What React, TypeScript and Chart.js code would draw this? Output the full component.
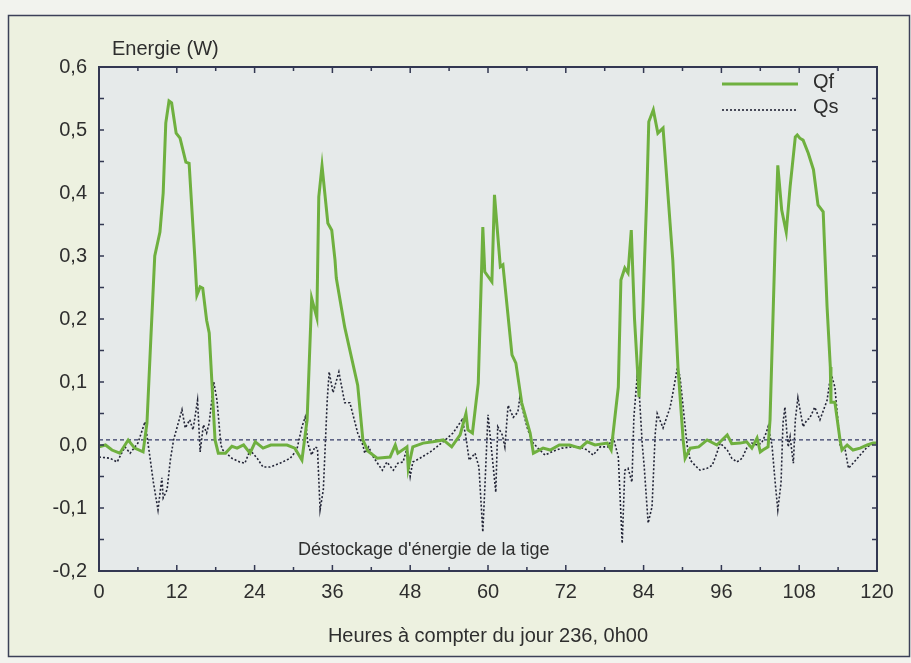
import React, { useEffect, useRef } from "react";
import { Chart, registerables } from "chart.js";

Chart.register(...registerables);

// ---- Data ----
const qfHours = [
  0, 1, 2, 3.2, 4.5, 5.5, 6.8, 7.4, 8.0, 8.6, 9.4, 9.9, 10.3, 10.8, 11.2, 11.9, 12.5, 13.4, 13.9, 14.8,
  15.1, 15.6, 16.0, 16.6, 17.0, 17.9, 18.4, 19.5, 20.5, 21.3, 22.3, 23.3, 24.1, 25.3, 26.5, 27.8, 29.0, 30.2, 31.3, 32.1,
  32.8, 33.6, 33.9, 34.4, 35.3, 35.9, 36.4, 36.6, 37.9, 39.9, 40.7, 41.5, 42.9, 44.9, 45.7, 46.1, 47.5, 47.7, 48.4, 50.0,
  51.5, 53.1, 54.4, 55.7, 56.6, 56.9, 57.6, 58.5, 59.2, 59.5, 60.6, 61.0, 61.9, 62.3, 63.7, 64.3, 65.2, 66.5, 67.0, 68.5,
  69.6, 71.0, 72.6, 74.2, 75.3, 76.5, 78.4, 79.0, 79.3, 80.1, 80.5, 81.1, 81.6, 82.1, 82.6, 83.3, 83.9, 84.5, 84.8, 85.5,
  86.2, 87.0, 88.5, 89.3, 90.1, 90.4, 91.2, 92.5, 93.8, 95.3, 96.9, 97.6, 98.9, 99.9, 100.7, 101.5, 102.0, 102.4, 103.2, 103.5,
  104.3, 104.7, 105.3, 106.0, 106.6, 107.4, 107.7, 108.1, 108.6, 109.4, 110.2, 110.9, 111.7, 112.0, 112.3, 112.8, 112.9, 113.5, 114.3, 114.6,
  115.4, 116.3, 117.4, 118.5, 119.4, 120,
];
const qfValues = [
  -0.003, 0.0, -0.008, -0.013, 0.008, -0.005, -0.011, 0.035, 0.17, 0.30, 0.338, 0.40, 0.511, 0.546, 0.543, 0.495, 0.487, 0.449, 0.447, 0.294,
  0.238, 0.251, 0.249, 0.198, 0.178, 0.008, -0.013, -0.013, -0.002, -0.005, 0.0, -0.013, 0.005, -0.005, 0.0, 0.0, 0.0, -0.005, -0.024, 0.04,
  0.233, 0.202, 0.394, 0.443, 0.352, 0.341, 0.294, 0.265, 0.187, 0.095, 0.008, -0.01, -0.021, -0.019, 0.0, -0.013, -0.003, -0.037, -0.003, 0.003,
  0.005, 0.008, -0.003, 0.016, 0.05, 0.024, 0.019, 0.098, 0.346, 0.275, 0.259, 0.397, 0.283, 0.286, 0.143, 0.13, 0.067, 0.019, -0.013, -0.005,
  -0.008, 0.0, 0.0, -0.005, 0.005, 0.0, 0.003, -0.008, 0.019, 0.092, 0.262, 0.281, 0.273, 0.341, 0.2, 0.076, 0.219, 0.40, 0.513, 0.532,
  0.495, 0.503, 0.294, 0.124, 0.008, -0.021, -0.005, -0.003, 0.008, 0.0, 0.016, 0.002, 0.003, 0.005, -0.005, 0.011, -0.011, -0.008, -0.003, 0.04,
  0.325, 0.444, 0.373, 0.338, 0.41, 0.489, 0.492, 0.487, 0.484, 0.463, 0.437, 0.381, 0.37, 0.294, 0.219, 0.124, 0.068, 0.068, 0.008, -0.008,
  0.0, -0.008, -0.005, 0.0, 0.003, 0.003,
];

const qsHours = [
  0, 1.7, 2.8, 4.0, 4.8, 6.0, 7.1, 7.6, 8.4, 9.1, 9.7, 9.9, 10.5, 11.0, 11.5, 12.8, 13.3, 14.0, 14.5, 15.2,
  15.6, 16.1, 16.6, 17.0, 17.7, 18.2, 18.8, 19.1, 20.5, 21.7, 22.5, 23.3, 24.4, 25.3, 26.4, 27.9, 29.5, 30.5, 31.3, 31.8,
  32.2, 32.8, 33.3, 33.7, 34.1, 34.6, 35.2, 35.5, 36.1, 37.0, 37.9, 38.7, 39.9, 40.7, 41.0, 41.6, 42.3, 43.7, 44.4, 45.4,
  46.1, 46.9, 47.5, 48.0, 48.4, 49.5, 51.1, 52.1, 53.4, 54.6, 56.0, 56.5, 57.1, 58.0, 58.6, 59.2, 59.5, 60.0, 60.6, 61.2,
  61.5, 62.2, 62.6, 63.1, 63.9, 64.6, 64.9, 66.0, 66.8, 67.7, 68.8, 70.0, 71.4, 72.8, 74.2, 75.3, 76.2, 77.3, 78.5, 79.3,
  80.1, 80.7, 81.1, 81.6, 82.2, 82.5, 83.0, 83.3, 83.8, 84.1, 84.7, 85.3, 85.8, 86.1, 87.0, 88.1, 88.4, 89.2, 89.6, 90.7,
  91.2, 91.9, 92.7, 93.8, 94.6, 95.3, 95.8, 96.9, 97.6, 98.4, 99.2, 99.9, 100.7, 101.5, 102.2, 102.9, 103.2, 103.8, 104.3, 104.7,
  105.2, 105.5, 105.8, 106.1, 106.3, 106.6, 106.9, 107.1, 107.4, 107.8, 108.6, 109.2, 109.6, 110.4, 111.2, 112.3, 112.9, 113.5, 114.3, 115.1,
  115.6, 116.3, 117.4, 118.5, 119.4,
];
const qsValues = [
  -0.019, -0.021, -0.027, -0.003, -0.013, 0.003, 0.037, 0.0, -0.06, -0.103, -0.052, -0.084, -0.071, -0.024, 0.008, 0.056, 0.027, 0.04, 0.024, 0.071,
  -0.011, 0.032, 0.019, 0.035, 0.1, 0.071, 0.0, -0.008, -0.021, -0.027, -0.029, -0.008, -0.021, -0.035, -0.035, -0.029, -0.021, -0.008, 0.029, 0.044,
  0.003, -0.016, -0.003, -0.005, -0.103, -0.071, 0.071, 0.116, 0.083, 0.116, 0.067, 0.067, 0.019, 0.0, -0.013, -0.003, -0.019, -0.04, -0.027, -0.04,
  -0.029, -0.027, -0.005, -0.05, -0.027, -0.021, -0.011, -0.003, 0.008, 0.019, 0.04, 0.019, -0.024, -0.013, -0.035, -0.138, -0.071, 0.048, -0.013, -0.075,
  0.029, 0.016, -0.003, 0.063, 0.044, 0.052, 0.075, 0.029, 0.005, -0.005, -0.016, -0.01, -0.005, -0.003, -0.003, -0.008, -0.016, -0.003, -0.003, 0.013,
  -0.019, -0.156, -0.04, -0.037, -0.059, 0.044, 0.108, 0.087, 0.0, -0.035, -0.124, -0.098, 0.019, 0.05, 0.027, 0.06, 0.076, 0.122, 0.11, 0.0,
  -0.024, -0.032, -0.04, -0.037, -0.032, -0.013, 0.003, -0.008, -0.021, -0.027, -0.021, -0.005, 0.003, 0.0, 0.003, 0.019, 0.029, 0.0, -0.06, -0.103,
  -0.06, 0.035, 0.06, 0.019, -0.003, 0.013, -0.013, -0.029, 0.04, 0.075, 0.029, 0.04, 0.042, 0.06, 0.04, 0.071, 0.114, 0.092, 0.0, -0.008,
  -0.037, -0.029, -0.016, -0.003, 0.003,
];

const xTickValues = [0, 12, 24, 36, 48, 60, 72, 84, 96, 108, 120];
const yTickValues = [-0.2, -0.1, 0, 0.1, 0.2, 0.3, 0.4, 0.5, 0.6];
const zeroLineLevel = 0.008;

const seriesNames = ["Qf", "Qs"];
const yAxisLabel = "Energie (W)";
const xAxisLabel = "Heures à compter du jour 236, 0h00";
const noteText = "Déstockage d'énergie de la tige";

const FONT = "'Liberation Sans', Arial, Helvetica, sans-serif";
const GREEN = "#6fb03f";
const DARK = "#222436";
const AXIS = "#333852";
const TEXT = "#2e2e2e";

const decorPlugin = {
  id: "decor",
  beforeDraw(chart: any) {
    const { ctx, chartArea: a, width, height } = chart;
    ctx.save();
    ctx.fillStyle = "#f2f3ee";
    ctx.fillRect(0, 0, width, height);
    ctx.fillStyle = "#edf1e0";
    ctx.fillRect(8, 15, 902, 642);
    ctx.strokeStyle = "#3c4058";
    ctx.lineWidth = 1.5;
    ctx.strokeRect(8.5, 15.5, 901, 641);
    ctx.fillStyle = "#e6eaea";
    ctx.fillRect(a.left, a.top, a.right - a.left, a.bottom - a.top);
    ctx.restore();
  },
  beforeDatasetsDraw(chart: any) {
    const { ctx, chartArea: a, scales } = chart;
    const y = scales.y.getPixelForValue(zeroLineLevel);
    ctx.save();
    ctx.strokeStyle = "#343a66";
    ctx.lineWidth = 1.2;
    ctx.setLineDash([4, 3]);
    ctx.beginPath();
    ctx.moveTo(a.left, y);
    ctx.lineTo(a.right, y);
    ctx.stroke();
    ctx.restore();
  },
  afterDraw(chart: any) {
    const { ctx, chartArea: a, scales } = chart;
    ctx.save();
    ctx.strokeStyle = AXIS;
    ctx.lineWidth = 2;
    ctx.strokeRect(a.left, a.top, a.right - a.left, a.bottom - a.top);
    ctx.lineWidth = 1.5;
    ctx.beginPath();
    for (let h = 6; h < 120; h += 6) {
      const x = scales.x.getPixelForValue(h);
      const len = h % 12 === 0 ? 6 : 4;
      ctx.moveTo(x, a.bottom);
      ctx.lineTo(x, a.bottom - len);
      ctx.moveTo(x, a.top);
      ctx.lineTo(x, a.top + len);
    }
    for (let i = 1; i < 16; i++) {
      const v = -0.2 + i * 0.05;
      const y = scales.y.getPixelForValue(v);
      ctx.moveTo(a.left, y);
      ctx.lineTo(a.left + 5, y);
      ctx.moveTo(a.right, y);
      ctx.lineTo(a.right - 5, y);
    }
    ctx.stroke();

    ctx.fillStyle = TEXT;
    ctx.textAlign = "left";
    ctx.textBaseline = "alphabetic";
    ctx.font = `20px ${FONT}`;
    ctx.fillText(yAxisLabel, 112, 55);
    ctx.font = `18px ${FONT}`;
    ctx.fillText(noteText, 298, 555);

    ctx.font = `20px ${FONT}`;
    ctx.fillText(seriesNames[0], 813, 88);
    ctx.fillText(seriesNames[1], 813, 113);
    ctx.strokeStyle = GREEN;
    ctx.lineWidth = 3;
    ctx.beginPath();
    ctx.moveTo(722, 84);
    ctx.lineTo(798, 84);
    ctx.stroke();
    ctx.strokeStyle = DARK;
    ctx.lineWidth = 1.6;
    ctx.setLineDash([2, 2]);
    ctx.beginPath();
    ctx.moveTo(722, 110);
    ctx.lineTo(798, 110);
    ctx.stroke();
    ctx.restore();
  },
};

export default function App() {
  const canvasRef = useRef<HTMLCanvasElement | null>(null);

  useEffect(() => {
    const canvas = canvasRef.current;
    if (!canvas) return;
    const qf = qfHours.map((h, i) => ({ x: h, y: qfValues[i] }));
    const qs = qsHours.map((h, i) => ({ x: h, y: qsValues[i] }));
    const chart = new Chart(canvas, {
      type: "line",
      data: {
        datasets: [
          {
            label: seriesNames[0],
            data: qf,
            borderColor: GREEN,
            borderWidth: 3,
            pointRadius: 0,
            tension: 0,
            fill: false,
          },
          {
            label: seriesNames[1],
            data: qs,
            borderColor: DARK,
            borderWidth: 1.6,
            borderDash: [2, 2],
            pointRadius: 0,
            tension: 0,
            fill: false,
          },
        ],
      },
      plugins: [decorPlugin],
      options: {
        responsive: false,
        animation: false,
        devicePixelRatio: 1,
        layout: { padding: { top: 67, right: 34, left: 0, bottom: 0 } },
        plugins: {
          legend: { display: false },
          tooltip: { enabled: false },
        },
        scales: {
          x: {
            type: "linear",
            min: 0,
            max: 120,
            afterFit: (s: any) => {
              s.height = 92;
            },
            afterBuildTicks: (s: any) => {
              s.ticks = xTickValues.map((v) => ({ value: v }));
            },
            grid: { display: false, drawTicks: false },
            border: { display: false },
            ticks: {
              autoSkip: false,
              maxRotation: 0,
              padding: 9,
              color: TEXT,
              font: { family: FONT, size: 20 },
            },
            title: {
              display: true,
              text: xAxisLabel,
              color: TEXT,
              font: { family: FONT, size: 20 },
              padding: { top: 0, bottom: 15 },
            },
          },
          y: {
            type: "linear",
            min: -0.2,
            max: 0.6,
            afterFit: (s: any) => {
              s.width = 99;
            },
            afterBuildTicks: (s: any) => {
              s.ticks = yTickValues.map((v) => ({ value: v }));
            },
            grid: { display: false, drawTicks: false },
            border: { display: false },
            ticks: {
              autoSkip: false,
              padding: 12,
              color: TEXT,
              font: { family: FONT, size: 20 },
              callback: (v: any) => Number(v).toFixed(1).replace(".", ","),
            },
          },
        },
      },
    } as any);
    return () => chart.destroy();
  }, []);

  return (
    <div style={{ position: "absolute", left: 0, top: 0, width: 911, height: 663 }}>
      <canvas ref={canvasRef} width={911} height={663} style={{ display: "block" }} />
    </div>
  );
}
